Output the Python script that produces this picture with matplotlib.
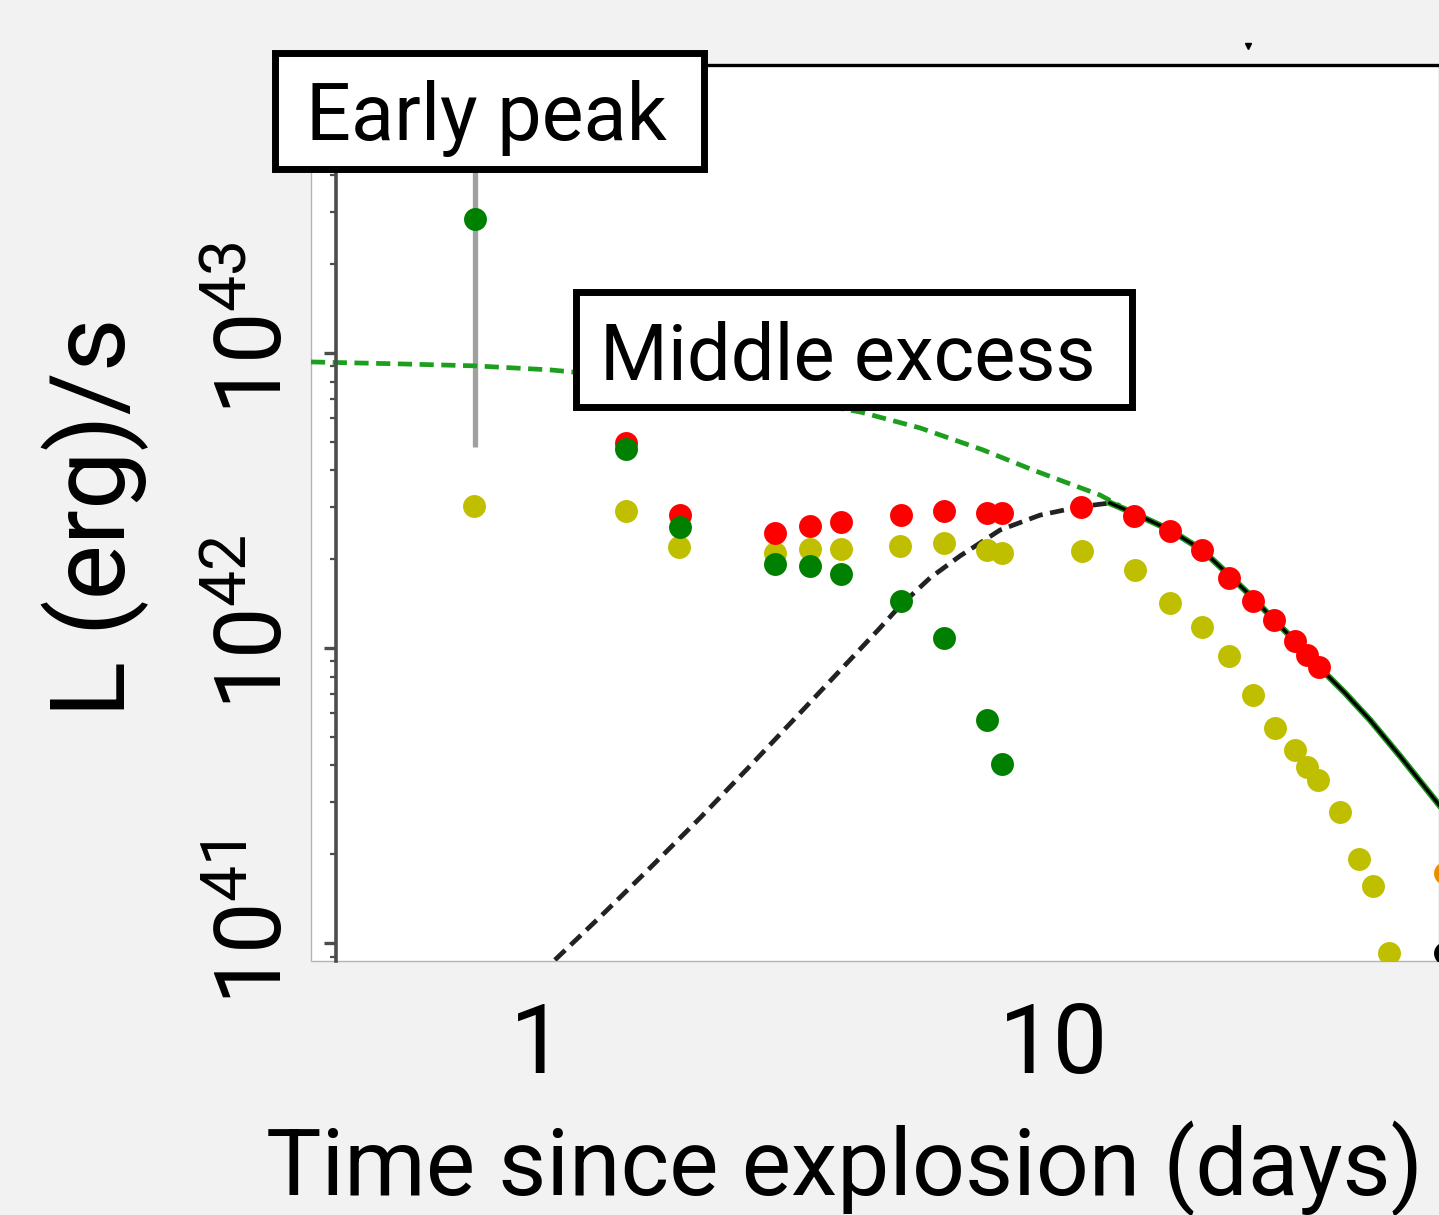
import matplotlib
matplotlib.use("Agg")
import matplotlib.pyplot as plt
import matplotlib.transforms as mtransforms
from matplotlib.patches import Rectangle
from matplotlib.ticker import NullLocator, NullFormatter

plt.rcParams.update(
    {
        "font.family": ["Roboto", "DejaVu Sans"],
        "mathtext.fontset": "custom",
        "mathtext.rm": "Roboto",
        "mathtext.it": "Roboto:italic",
        "mathtext.bf": "Roboto:bold",
    }
)

# ======================
# data
# ======================
# early peak point with its error bar
early_t = [0.759]
early_L = [2.84e43]
early_lo = [4.8e42]
early_hi = [8.0e43]

green_t = [1.486, 1.891, 2.886, 3.373, 3.873, 5.06, 6.13, 7.42, 7.94]
green_L = [4.73e42, 2.57e42, 1.93e42, 1.90e42, 1.78e42, 1.44e42, 1.08e42, 5.70e41, 4.05e41]

red_t = [1.486, 1.891, 2.886, 3.373, 3.873, 5.06, 6.13, 7.42, 7.94, 11.28,
         14.28, 16.77, 19.33, 21.80, 24.26, 26.65, 29.25, 30.86, 32.55]
red_L = [4.95e42, 2.83e42, 2.46e42, 2.59e42, 2.67e42, 2.83e42, 2.91e42, 2.87e42, 2.87e42, 3.01e42,
         2.80e42, 2.49e42, 2.15e42, 1.73e42, 1.44e42, 1.24e42, 1.06e42, 9.47e41, 8.63e41]

yellow_t = [0.755, 1.486, 1.882, 2.886, 3.373, 3.873, 5.04, 6.13, 7.42, 7.94, 11.33, 14.35,
            16.77, 19.33, 21.80, 24.26, 26.77, 29.25, 30.86, 32.41, 35.75, 38.9, 41.4, 44.5]
yellow_L = [3.03e42, 2.91e42, 2.20e42, 2.10e42, 2.17e42, 2.17e42, 2.22e42, 2.27e42, 2.15e42, 2.10e42, 2.13e42, 1.84e42,
            1.42e42, 1.18e42, 9.39e41, 6.93e41, 5.36e41, 4.51e41, 3.95e41, 3.57e41, 2.78e41, 1.93e41, 1.56e41, 9.25e40]

orange_t = [57.0]
orange_L = [1.73e41]
black_t = [57.0]
black_L = [9.25e40]

limit_t = [23.7]
limit_L = [1.1e44]

# model curves
ni_dash_t = [1.083, 1.324, 1.654, 2.067, 2.582, 3.227, 4.031, 4.607, 5.036, 5.756, 6.579, 7.863, 9.396, 11.22, 12.83]
ni_dash_L = [8.76e40, 1.225e41, 1.796e41, 2.653e41, 3.98e41, 6.02e41, 9.11e41, 1.169e42, 1.388e42, 1.727e42,
             2.05e42, 2.51e42, 2.82e42, 3.01e42, 3.10e42]

tail_t = [12.83, 14.35, 16.77, 19.33, 21.90, 24.48, 26.76, 29.27, 32.70, 36.55, 40.86, 46.70, 55.55]
tail_L = [3.10e42, 2.85e42, 2.51e42, 2.15e42, 1.754e42, 1.455e42, 1.234e42, 1.056e42, 8.55e41, 7.04e41,
          5.70e41, 4.30e41, 2.94e41]

csm_dash_t = [0.3655, 0.5433, 0.7589, 1.060, 1.486, 2.067, 2.951, 4.214, 5.506, 7.291, 9.108, 10.60, 12.27, 13.42]
csm_dash_L = [9.32e42, 9.18e42, 9.04e42, 8.76e42, 8.29e42, 7.73e42, 7.04e42, 6.31e42, 5.57e42, 4.69e42,
              4.01e42, 3.63e42, 3.30e42, 3.03e42]

x_ticks = [1, 10]
x_ticklabels = ["1", "10"]
y_ticks = [1e41, 1e42, 1e43]
y_ticklabels = [r"$\mathregular{10^{41}}$", r"$\mathregular{10^{42}}$", r"$\mathregular{10^{43}}$"]

# ======================
# figure
# ======================
W, H = 1439, 1215
fig = plt.figure(figsize=(W / 100, H / 100), dpi=100, facecolor="#f2f2f2")
ax = fig.add_axes([311 / W, 1 - 961 / H, 1128 / W, 896 / H])
ax.set_xscale("log")
ax.set_yscale("log")
ax.set_xlim(0.3655, 55.55)
ax.set_ylim(8.69e40, 9.46e43)

ax.patch.set_facecolor("white")
ax.patch.set_edgecolor("#b4b4b4")
ax.patch.set_linewidth(1.0)

ax.spines["right"].set_visible(False)
ax.spines["bottom"].set_visible(False)
ax.spines["top"].set_color("black")
ax.spines["top"].set_linewidth(2.4)
ax.spines["left"].set_position(("axes", 25 / 1128))
ax.spines["left"].set_color("#4d4d4d")
ax.spines["left"].set_linewidth(2.6)

# curves
ax.vlines(early_t, early_lo, early_hi, color="#a0a0a0", lw=3.8, zorder=1)
ax.plot(csm_dash_t, csm_dash_L, color="#1e9e1e", lw=3.4, dashes=(3.0, 1.6), zorder=2)
ax.plot(ni_dash_t, ni_dash_L, color="#222222", lw=3.4, dashes=(3.0, 1.6), zorder=2)
ax.plot(tail_t, tail_L, color="#1a9a1a", lw=4.6, zorder=2)
ax.plot(tail_t, tail_L, color="black", lw=2.4, zorder=2.1)

# data points
ms = 16.5
ax.plot(yellow_t, yellow_L, "o", color="#bfbf00", ms=ms, mec="none", zorder=3)
ax.plot(red_t, red_L, "o", color="#ff0000", ms=ms, mec="none", zorder=3.1)
ax.plot(green_t, green_L, "o", color="#008000", ms=ms, mec="none", zorder=3.2)
ax.plot(early_t, early_L, "o", color="#008000", ms=ms, mec="none", zorder=3.2)
ax.plot(orange_t, orange_L, "o", color="#ee8c00", ms=ms, mec="none", zorder=3)
ax.plot(black_t, black_L, "o", color="black", ms=ms, mec="none", zorder=3)
ax.plot(limit_t, limit_L, "v", color="black", ms=5, clip_on=False, zorder=3)

# ticks
ax.tick_params(axis="y", which="major", direction="out", length=8.6, width=2.4,
               color="#4d4d4d", pad=30, labelsize=66)
ax.tick_params(axis="y", which="minor", direction="out", length=4.3, width=1.6, color="#4d4d4d")
ax.tick_params(axis="x", which="both", length=0, pad=29, labelsize=70)
ax.set_xticks(x_ticks, labels=x_ticklabels)
ax.xaxis.set_minor_locator(NullLocator())
ax.set_yticks(y_ticks, labels=y_ticklabels)
ax.yaxis.set_minor_formatter(NullFormatter())
shift = mtransforms.ScaledTranslation(0, -62 / 100, fig.dpi_scale_trans)
for lab in ax.get_yticklabels():
    lab.set_rotation(90)
    lab.set_rotation_mode("anchor")
    lab.set_ha("left")
    lab.set_va("baseline")
    lab.set_transform(lab.get_transform() + shift)

# axis labels
ax.set_xlabel("Time since explosion (days)", fontsize=67, va="baseline")
ax.xaxis.set_label_coords(0.4734, -0.2612)
ax.set_ylabel("L (erg)/s", fontsize=75, va="baseline")
ax.yaxis.set_label_coords(-0.1649, 0.4955)

# annotation boxes (pixel coords, measured from top-left)
def box(x0, y0, x1, y1):
    rect = Rectangle((x0 / W, 1 - y1 / H), (x1 - x0) / W, (y1 - y0) / H,
                     transform=fig.transFigure, fc="white", ec="black", lw=5, zorder=5)
    fig.add_artist(rect)

box(274.5, 52.5, 703.5, 168.5)
fig.text(486 / W, 1 - 140 / H, "Early peak", ha="center", va="baseline", fontsize=57, zorder=6)
box(575.5, 291.5, 1131.5, 406.5)
fig.text(847.5 / W, 1 - 380 / H, "Middle excess", ha="center", va="baseline", fontsize=56, zorder=6)

fig.savefig("out.png", dpi=100, facecolor=fig.get_facecolor())
